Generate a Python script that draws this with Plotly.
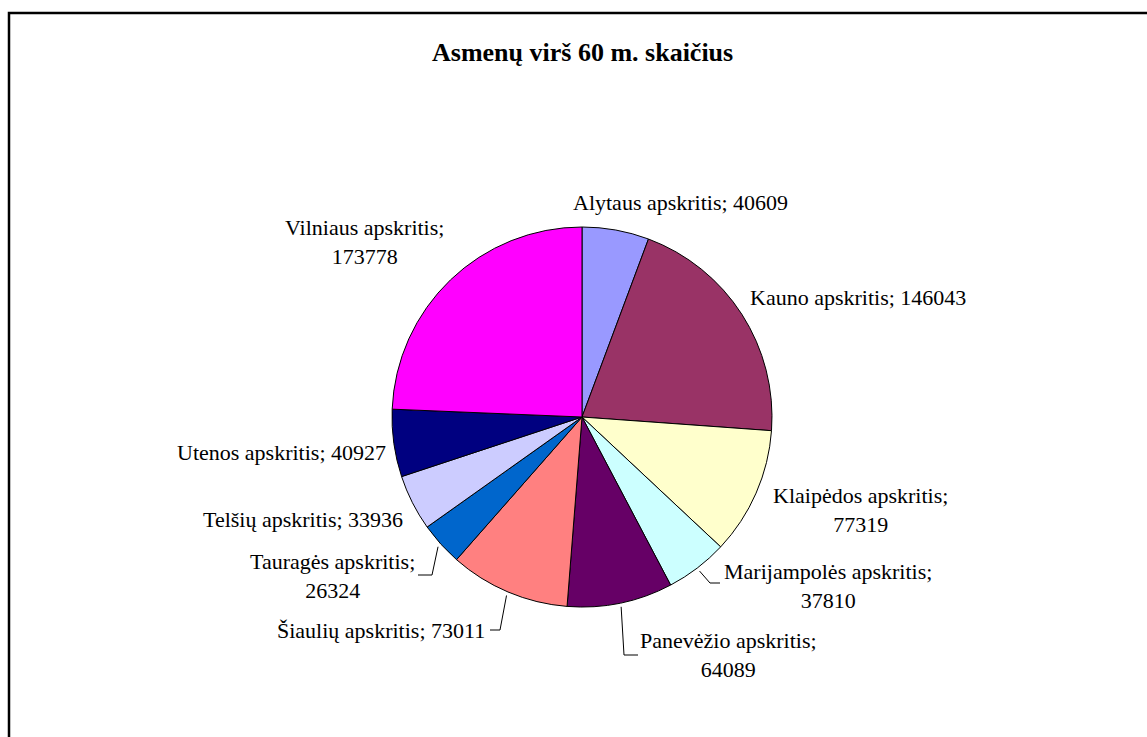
import math
import plotly.graph_objects as go

OFF = 0
FW, FH = 1147, 737

# ---- data ----
regions = ["Alytaus apskritis", "Kauno apskritis", "Klaipėdos apskritis",
           "Marijampolės apskritis", "Panevėžio apskritis", "Šiaulių apskritis",
           "Tauragės apskritis", "Telšių apskritis", "Utenos apskritis",
           "Vilniaus apskritis"]
values = [40609, 146043, 77319, 37810, 64089, 73011, 26324, 33936, 40927, 173778]
colors = ["#9999FF", "#993366", "#FFFFCC", "#CCFFFF", "#660066", "#FF8080",
          "#0066CC", "#CCCCFF", "#000080", "#FF00FF"]
title = "Asmenų virš 60 m. skaičius"

# ---- layout of pie (page pixels) ----
CX, CY, R = 582, 417, 190

def px(x):
    return (x - OFF) / FW

def py(y):
    return 1 - (y - OFF) / FH

# label placement: (x, y, xanchor, align, two_lines, leader)
label_pos = [
    (571, 203, "left", "left", False, False),
    (748, 298, "left", "left", False, False),
    (860, 510, "center", "center", True, False),
    (828, 586, "center", "center", True, True),
    (728, 655, "center", "center", True, True),
    (487, 630, "right", "right", False, True),
    (332, 576, "center", "center", True, True),
    (303, 519, "center", "center", False, False),
    (281, 452, "center", "center", False, False),
    (364, 242, "center", "center", True, False),
]
# leader elbow points (pixels): bend point and end point
leader_pts = {
    3: [(710, 583), (720, 583)],
    4: [(624, 655), (638, 655)],
    5: [(500, 630), (490, 630)],
    6: [(432, 575), (418, 575)],
}

fig = go.Figure(go.Pie(
    labels=regions, values=values, sort=False, direction="clockwise",
    rotation=0,
    marker=dict(colors=colors, line=dict(color="black", width=1)),
    textinfo="none", hoverinfo="label+value",
    domain=dict(x=[px(CX - R), px(CX + R)], y=[py(CY + R), py(CY - R)]),
    showlegend=False,
))

total = sum(values)
cum = 0
annotations = []
shapes = []
for i, (name, v) in enumerate(zip(regions, values)):
    mid = (cum + v / 2) / total * 2 * math.pi
    cum += v
    x, y, xa, al, two, leader = label_pos[i]
    text = f"{name};<br>{v}" if two else f"{name}; {v}"
    annotations.append(dict(
        x=px(x), y=py(y), xref="paper", yref="paper", text=text,
        showarrow=False, xanchor=xa, yanchor="middle", align=al,
        font=dict(family="Liberation Serif", size=22, color="black"),
    ))
    if leader:
        sx = CX + R * 1.02 * math.sin(mid)
        sy = CY - R * 1.02 * math.cos(mid)
        pts = [(sx, sy)] + leader_pts[i]
        path = "M " + " L ".join(f"{px(a)},{py(b)}" for a, b in pts)
        shapes.append(dict(type="path", path=path, xref="paper", yref="paper",
                           line=dict(color="black", width=1)))

# outer frame
shapes.append(dict(type="rect", xref="paper", yref="paper",
                   x0=px(9), y0=py(800), x1=px(1200), y1=py(13),
                   line=dict(color="black", width=2.5), layer="above"))

annotations.append(dict(
    x=px(583), y=py(52), xref="paper", yref="paper",
    text=f"<b>{title}</b>", showarrow=False, xanchor="center", yanchor="middle",
    font=dict(family="Liberation Serif", size=26, color="black"),
))

fig.update_layout(
    width=FW, height=FH, margin=dict(l=0, r=0, t=0, b=0),
    paper_bgcolor="white", plot_bgcolor="white",
    annotations=annotations, shapes=shapes,
)

fig.write_html(
    "out.html",
    config={"displayModeBar": False},
    post_script="document.body.style.margin='0';document.body.style.overflow='hidden';",
)
